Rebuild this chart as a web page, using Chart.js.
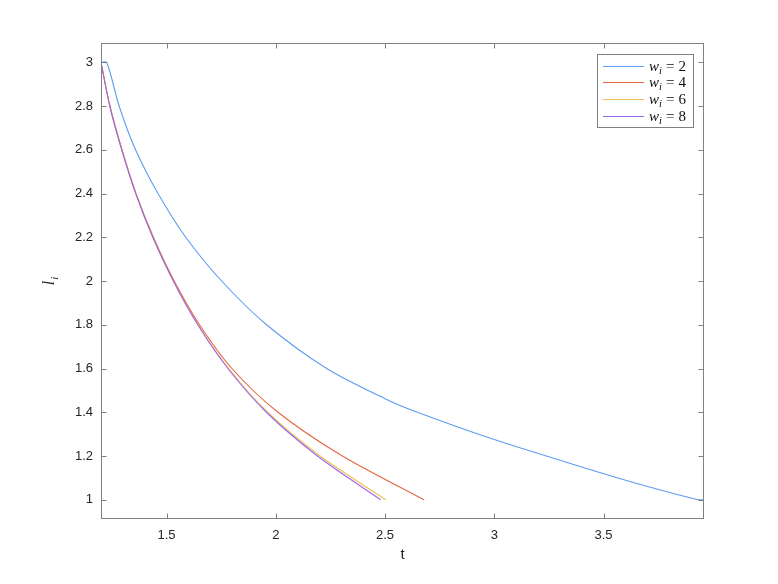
<!DOCTYPE html>
<html>
<head>
<meta charset="utf-8">
<script src="https://cdn.jsdelivr.net/npm/chart.js@4.4.1/dist/chart.umd.min.js"></script>
<style>
  html, body { margin: 0; padding: 0; background: #fff; }
  #wrap { width: 778px; height: 584px; }
</style>
</head>
<body>
<div id="wrap"><canvas id="lenChart" width="778" height="584"></canvas></div>
<script>
// curves: t on x, l_i on y
const tW2 = [1.2, 1.226, 1.283, 1.358, 1.461, 1.588, 1.752, 1.958, 2.233, 2.5, 2.645, 3.0, 3.4, 3.669, 3.934, 3.96];
const lW2 = [3, 3, 2.8, 2.6, 2.4, 2.2, 2.0, 1.8, 1.6, 1.462, 1.401, 1.275, 1.15, 1.07, 1.0, 1.0];

const tW4 = [1.2, 1.241, 1.296, 1.36, 1.44, 1.535, 1.651, 1.799, 2.01, 2.305, 2.678];
const lW4 = [3, 2.8, 2.6, 2.4, 2.2, 2.0, 1.8, 1.6, 1.4, 1.2, 1.0];

const tW6 = [1.2, 1.240, 1.295, 1.359, 1.437, 1.531, 1.644, 1.784, 1.963, 2.203, 2.503];
const lW6 = [3, 2.8, 2.6, 2.4, 2.2, 2.0, 1.8, 1.6, 1.4, 1.2, 1.0];

const tW8 = [1.2, 1.240, 1.295, 1.359, 1.437, 1.531, 1.643, 1.781, 1.957, 2.191, 2.48];
const lW8 = [3, 2.8, 2.6, 2.4, 2.2, 2.0, 1.8, 1.6, 1.4, 1.2, 1.0];

const weights = [2, 4, 6, 8];
const colors = ['#5e9cf2', '#e5673f', '#f0c04e', '#9a66ee'];

const xTicks = [1.5, 2, 2.5, 3, 3.5];
const xTickLabels = ['1.5', '2', '2.5', '3', '3.5'];
const yTicks = [1, 1.2, 1.4, 1.6, 1.8, 2, 2.2, 2.4, 2.6, 2.8, 3];
const yTickLabels = ['1', '1.2', '1.4', '1.6', '1.8', '2', '2.2', '2.4', '2.6', '2.8', '3'];
const xRange = [1.2, 3.96];
const yRange = [0.912, 3.088];

const sansFont = 'Liberation Sans, Arial, Helvetica, sans-serif';
const serifFont = 'Liberation Serif, Times New Roman, serif';
const axisGray = '#808080';
const textDark = '#262626';

function pairUp(ts, ls) {
  return ts.map((t, i) => ({ x: t, y: ls[i] }));
}

function labelFor(value, ticks, labels) {
  const idx = ticks.findIndex(v => Math.abs(v - value) < 1e-9);
  return idx >= 0 ? labels[idx] : '';
}

const curves = [[tW2, lW2], [tW4, lW4], [tW6, lW6], [tW8, lW8]];

const datasets = curves.map(([ts, ls], i) => ({
  label: 'w_i = ' + weights[i],
  data: pairUp(ts, ls),
  borderColor: colors[i],
  borderWidth: 1.1,
  pointRadius: 0,
  fill: false,
  tension: 0.3,
  order: curves.length - i   // last curve drawn on top, like the original
}));

// box round the plot with inward ticks on all four sides
const axesBox = {
  id: 'axesBox',
  afterDraw(chart) {
    const { ctx, chartArea: a, scales: { x, y } } = chart;
    const tick = 5.5;
    ctx.save();
    ctx.strokeStyle = axisGray;
    ctx.lineWidth = 1;
    ctx.strokeRect(a.left + 0.5, a.top + 0.5, a.right - a.left - 1, a.bottom - a.top - 1);
    ctx.beginPath();
    xTicks.forEach(v => {
      const px = Math.round(x.getPixelForValue(v)) + 0.5;
      ctx.moveTo(px, a.bottom);
      ctx.lineTo(px, a.bottom - tick);
      ctx.moveTo(px, a.top);
      ctx.lineTo(px, a.top + tick);
    });
    yTicks.forEach(v => {
      const py = Math.round(y.getPixelForValue(v)) + 0.5;
      ctx.moveTo(a.left, py);
      ctx.lineTo(a.left + tick, py);
      ctx.moveTo(a.right, py);
      ctx.lineTo(a.right - tick, py);
    });
    ctx.stroke();

    // y axis title: italic l with subscript i
    ctx.translate(50, (a.top + a.bottom) / 2);
    ctx.rotate(-Math.PI / 2);
    ctx.fillStyle = textDark;
    ctx.textBaseline = 'alphabetic';
    ctx.font = 'italic 16px ' + serifFont;
    const lw = ctx.measureText('l').width;
    ctx.font = 'italic 11px ' + serifFont;
    const iw = ctx.measureText('i').width;
    const start = -(lw + iw + 1) / 2;
    ctx.font = 'italic 16px ' + serifFont;
    ctx.fillText('l', start, 4);
    ctx.font = 'italic 11px ' + serifFont;
    ctx.fillText('i', start + lw + 1, 8);
    ctx.restore();
  }
};

// MATLAB-style legend box in the top right corner
const mathLegend = {
  id: 'mathLegend',
  afterDraw(chart) {
    const { ctx, chartArea: a } = chart;
    const boxW = 96, boxH = 73;
    const left = a.right - 11 - boxW;
    const top = a.top + 11;
    ctx.save();
    ctx.fillStyle = '#fff';
    ctx.fillRect(left, top, boxW, boxH);
    ctx.strokeStyle = axisGray;
    ctx.lineWidth = 1;
    ctx.strokeRect(Math.round(left) + 0.5, Math.round(top) + 0.5, boxW, boxH);
    weights.forEach((w, i) => {
      const rowY = Math.round(top + 11.5 + i * 16.9) + 0.5;
      ctx.strokeStyle = colors[i];
      ctx.lineWidth = 1.1;
      ctx.beginPath();
      ctx.moveTo(left + 6, rowY);
      ctx.lineTo(left + 47, rowY);
      ctx.stroke();

      ctx.fillStyle = '#111';
      ctx.textBaseline = 'alphabetic';
      let tx = left + 52;
      ctx.font = 'italic 15px ' + serifFont;
      ctx.fillText('w', tx, rowY + 4.5);
      tx += ctx.measureText('w').width;
      ctx.font = 'italic 10.5px ' + serifFont;
      ctx.fillText('i', tx, rowY + 7.5);
      tx += ctx.measureText('i').width + 4;
      ctx.font = '15px ' + serifFont;
      ctx.fillText('=', tx, rowY + 4.5);
      tx += ctx.measureText('=').width + 4;
      ctx.fillText(String(w), tx, rowY + 4.5);
    });
    ctx.restore();
  }
};

new Chart(document.getElementById('lenChart'), {
  type: 'line',
  data: { datasets },
  options: {
    responsive: false,
    animation: false,
    devicePixelRatio: 1,
    layout: { padding: { top: 43, right: 74, bottom: 0, left: 0 } },
    plugins: {
      legend: { display: false },
      tooltip: { enabled: false },
      title: { display: false }
    },
    scales: {
      x: {
        type: 'linear',
        min: xRange[0],
        max: xRange[1],
        grid: { display: false, drawTicks: false },
        border: { display: false },
        afterBuildTicks: s => { s.ticks = xTicks.map(v => ({ value: v })); },
        afterFit: s => { s.height = 65; },
        ticks: {
          padding: 9,
          color: textDark,
          font: { family: sansFont, size: 13 },
          maxRotation: 0,
          callback: v => labelFor(v, xTicks, xTickLabels)
        },
        title: {
          display: true,
          text: 't',
          color: textDark,
          font: { family: sansFont, size: 15 },
          padding: { top: 0, bottom: 20 }
        }
      },
      y: {
        type: 'linear',
        min: yRange[0],
        max: yRange[1],
        grid: { display: false, drawTicks: false },
        border: { display: false },
        afterBuildTicks: s => { s.ticks = yTicks.map(v => ({ value: v })); },
        afterFit: s => { s.width = 101; },
        ticks: {
          padding: 8,
          color: textDark,
          font: { family: sansFont, size: 13 },
          callback: v => labelFor(v, yTicks, yTickLabels)
        }
      }
    }
  },
  plugins: [axesBox, mathLegend]
});
</script>
</body>
</html>
